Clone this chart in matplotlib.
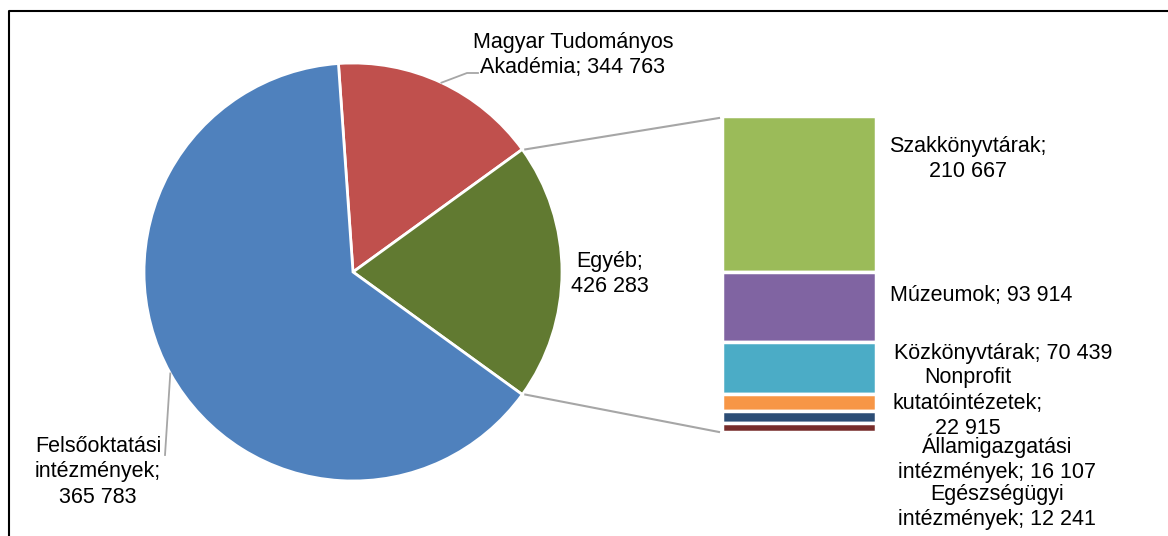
import numpy as np
import matplotlib.pyplot as plt

plt.rcParams['font.family'] = ['Liberation Sans', 'DejaVu Sans']

# main pie: MTA, Egyéb, Felsőoktatási (slice size)
main_values = [344763, 426283, 1365783]
main_labels = ['Magyar Tudományos\nAkadémia; 344 763', 'Egyéb;\n426 283',
               'Felsőoktatási\nintézmények;\n365 783']
main_colors = ['#C0504D', '#617A31', '#4F81BD']

# breakdown of "Egyéb"
sub_values = [210667, 93914, 70439, 22915, 16107, 12241]
sub_labels = ['Szakkönyvtárak;\n210 667', 'Múzeumok; 93 914', 'Közkönyvtárak; 70 439',
              'Nonprofit\nkutatóintézetek;\n22 915', 'Államigazgatási\nintézmények; 16 107',
              'Egészségügyi\nintézmények; 12 241']
sub_colors = ['#9BBB59', '#8064A2', '#4BACC6', '#F79646', '#2C4D75', '#772C2A']

W, H = 1168, 536
fig = plt.figure(figsize=(W / 100, H / 100), dpi=100)
ax = fig.add_axes([0, 0, 1, 1])

cx, cy, r = 353, 272, 209
wedges, _ = ax.pie(main_values, colors=main_colors, startangle=-94, counterclock=True,
                   center=(cx, cy), radius=r, frame=True,
                   wedgeprops=dict(edgecolor='white', linewidth=2))
ax.set_xlim(0, W)
ax.set_ylim(H, 0)
ax.axis('off')

# stacked bar for the "Egyéb" part
bx, bw, btop, bh = 799, 154, 116, 316
k = bh / sum(sub_values)
heights = np.array(sub_values) * k
bottoms = btop + np.concatenate([[0], np.cumsum(heights)[:-1]])
ax.bar(bx, heights, bottom=bottoms, width=bw, color=sub_colors,
       edgecolor='white', linewidth=2.5)


def edge_pt(theta):
    t = np.deg2rad(theta)
    return cx + r * np.cos(t), cy + r * np.sin(t)


gray = '#A6A6A6'
g = wedges[1]
x1, y1 = edge_pt(g.theta1)
x2, y2 = edge_pt(g.theta2)
ax.plot([x1 + 3, bx - bw / 2 - 3], [y1, btop + 2], color=gray, lw=1.5)
ax.plot([x2 + 3, bx - bw / 2 - 3], [y2, btop + bh], color=gray, lw=1.5)

# leader lines
red = wedges[0]
mx, my = edge_pt((red.theta1 + red.theta2) / 2)
ax.plot([mx, 467, 478], [my, 73, 73], color=gray, lw=1.3)
blue = wedges[2]
mx, my = edge_pt((blue.theta1 + blue.theta2) / 2)
ax.plot([mx, 165], [my, 455], color=gray, lw=1.3)

# chart border (only left and top visible)
ax.plot([9, 9, W], [H, 11, 11], color='black', lw=1.5, clip_on=False)

fs = 15.5
ls = 1.28
main_pos = [(573, 55), (610, 274), (98, 472)]
for lab, (x, y) in zip(main_labels, main_pos):
    ax.text(x, y, lab, ha='center', va='center', ma='center', fontsize=fs,
            linespacing=ls)

sub_pos = [(968, 159), (981, 295), (1003, 353), (968, 403), (997, 458), (997, 507)]
for lab, (x, y) in zip(sub_labels, sub_pos):
    ax.text(x, y, lab, ha='center', va='center', ma='center', fontsize=fs,
            linespacing=ls)

plt.savefig('out.png', dpi=100)
